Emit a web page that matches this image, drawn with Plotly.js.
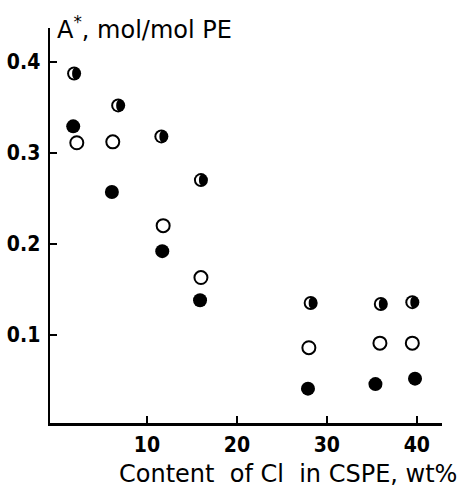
<!DOCTYPE html>
<html><head><meta charset="utf-8">
<script src="https://cdn.plot.ly/plotly-3.0.1.min.js"></script>
<style>body{margin:0;background:#fff}#c{width:458px;height:488px}</style>
</head><body><div id="c"></div>
<script>
// Data
const xHalf = [1.9, 6.8, 11.6, 16.0, 28.2, 36.0, 39.5];
const yHalf = [0.387, 0.352, 0.318, 0.270, 0.135, 0.134, 0.136];
const xOpen = [2.2, 6.2, 11.8, 16.0, 28.0, 35.9, 39.5];
const yOpen = [0.311, 0.312, 0.220, 0.163, 0.086, 0.091, 0.091];
const xFilled = [1.8, 6.1, 11.7, 15.9, 27.9, 35.4, 39.8];
const yFilled = [0.329, 0.257, 0.192, 0.138, 0.041, 0.046, 0.052];
const xTicks = [10, 20, 30, 40];
const yTicks = [0.1, 0.2, 0.3, 0.4];
const yTickText = ['0.1', '0.2', '0.3', '0.4'];

const tickFont = {family: 'DejaVu Sans Condensed', size: 21, color: '#000', weight: 'bold'};
const titleFont = {family: 'DejaVu Sans', size: 24, color: '#000'};

const traces = [
  {x: xFilled, y: yFilled, mode: 'markers', type: 'scatter',
   marker: {symbol: 'circle', size: 14, color: '#000', line: {width: 0}}},
  {x: xOpen, y: yOpen, mode: 'markers', type: 'scatter',
   marker: {symbol: 'circle', size: 13, color: '#fff', line: {width: 2, color: '#000'}}},
  {x: xHalf, y: yHalf, mode: 'markers', type: 'scatter',
   marker: {symbol: 'circle', size: 14, color: '#000', line: {width: 0}}}
];

// white crescent on the left side of each half-filled marker (pixel-sized, anchored at the data point)
const crescent = 'M 0,-5 C -2.76,-5 -5,-2.76 -5,0 C -5,2.76 -2.76,5 0,5 ' +
                 'C -1.1,5 -2,2.76 -2,0 C -2,-2.76 -1.1,-5 0,-5 Z';
const halfShapes = xHalf.map((xv, i) => ({
  type: 'path', layer: 'above', xref: 'x', yref: 'y', xsizemode: 'pixel', ysizemode: 'pixel',
  xanchor: xv, yanchor: yHalf[i], path: crescent,
  fillcolor: '#fff', line: {width: 0}
}));

const layout = {
  width: 458, height: 488,
  margin: {l: 50, r: 16, t: 28, b: 65},
  paper_bgcolor: '#fff', plot_bgcolor: '#fff',
  showlegend: false,
  shapes: halfShapes,
  xaxis: {range: [-0.78, 42.8], tickvals: xTicks, ticktext: xTicks.map(String),
    ticks: 'inside', ticklen: 7, tickwidth: 2, tickcolor: '#000',
    showline: true, linewidth: 2.5, linecolor: '#000', showgrid: false, zeroline: false,
    tickfont: tickFont, ticklabelstandoff: 1},
  yaxis: {range: [0.0033, 0.437], tickvals: yTicks, ticktext: yTickText,
    ticks: 'inside', ticklen: 7, tickwidth: 2, tickcolor: '#000',
    showline: true, linewidth: 2.5, linecolor: '#000', showgrid: false, zeroline: false,
    tickfont: tickFont, ticklabelstandoff: 3},
  annotations: [
    {xref: 'paper', yref: 'paper', x: 0.012, y: 1.0, xanchor: 'left', yanchor: 'middle',
     text: 'A<sup>*</sup>, mol/mol PE', showarrow: false, font: titleFont},
    {xref: 'paper', yref: 'paper', x: 0.17, y: -0.13, xanchor: 'left', yanchor: 'middle',
     text: 'Content  of Cl  in CSPE, wt%', showarrow: false, font: titleFont}
  ]
};

Plotly.newPlot('c', traces, layout, {displayModeBar: false, staticPlot: true});
</script></body></html>
